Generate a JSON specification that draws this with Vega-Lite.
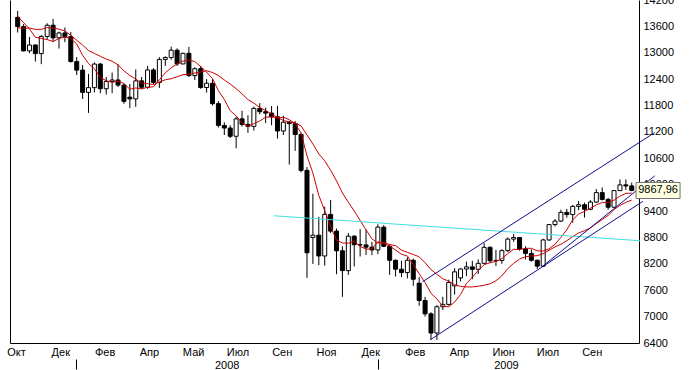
{
  "$schema": "https://vega.github.io/schema/vega-lite/v6.json",
  "width": 629,
  "height": 343,
  "autosize": {"type": "none"},
  "padding": {"left": 10, "top": 0, "right": 51, "bottom": 27},
  "background": "#ffffff",
  "config": {
    "view": {"stroke": null},
    "font": "Liberation Sans",
    "locale": {"number": {"decimal": ",", "thousands": "", "grouping": [3], "currency": ["", ""]}},
    "axis": {"labelFont": "Liberation Sans", "labelFontSize": 11, "labelColor": "#000000", "domainColor": "#000000", "domainWidth": 1, "tickColor": "#000000", "grid": false, "title": null, "labelOverlap": false, "labelFlush": false, "labelBound": false}
  },
  "datasets": {
    "w": [
      {"i": -12, "c": 13240}, {"i": -11, "c": 13079}, {"i": -10, "c": 13379}, {"i": -9, "c": 13358},
      {"i": -8, "c": 13113}, {"i": -7, "c": 13442}, {"i": -6, "c": 13821}, {"i": -5, "c": 13896},
      {"i": -4, "c": 14066}, {"i": -3, "c": 14093}, {"i": -2, "c": 13522}, {"i": -1, "c": 13806},
      {"i": 0, "o": 13806, "h": 13953, "l": 13460, "c": 13595},
      {"i": 1, "o": 13595, "h": 13650, "l": 13030, "c": 13043},
      {"i": 2, "o": 13043, "h": 13362, "l": 12991, "c": 13177},
      {"i": 3, "o": 13177, "h": 13190, "l": 12800, "c": 12981},
      {"i": 4, "o": 12981, "h": 13400, "l": 12741, "c": 13372},
      {"i": 5, "o": 13372, "h": 13670, "l": 13300, "c": 13626},
      {"i": 6, "o": 13626, "h": 13770, "l": 13250, "c": 13340},
      {"i": 7, "o": 13340, "h": 13480, "l": 13096, "c": 13451},
      {"i": 8, "o": 13451, "h": 13575, "l": 13240, "c": 13366},
      {"i": 9, "o": 13366, "h": 13470, "l": 12780, "c": 12800},
      {"i": 10, "o": 12800, "h": 12900, "l": 12495, "c": 12606},
      {"i": 11, "o": 12606, "h": 12720, "l": 11950, "c": 12099},
      {"i": 12, "o": 12099, "h": 12520, "l": 11634, "c": 12207},
      {"i": 13, "o": 12207, "h": 12780, "l": 12100, "c": 12743},
      {"i": 14, "o": 12743, "h": 12770, "l": 12080, "c": 12182},
      {"i": 15, "o": 12182, "h": 12450, "l": 12050, "c": 12348},
      {"i": 16, "o": 12348, "h": 12550, "l": 12080, "c": 12381},
      {"i": 17, "o": 12381, "h": 12741, "l": 12220, "c": 12266},
      {"i": 18, "o": 12266, "h": 12290, "l": 11840, "c": 11894},
      {"i": 19, "o": 11990, "h": 12290, "l": 11740, "c": 11951},
      {"i": 20, "o": 11951, "h": 12620, "l": 11770, "c": 12361},
      {"i": 21, "o": 12361, "h": 12450, "l": 12180, "c": 12216},
      {"i": 22, "o": 12216, "h": 12700, "l": 12180, "c": 12609},
      {"i": 23, "o": 12609, "h": 12650, "l": 12290, "c": 12325},
      {"i": 24, "o": 12325, "h": 12900, "l": 12200, "c": 12849},
      {"i": 25, "o": 12849, "h": 12920, "l": 12700, "c": 12892},
      {"i": 26, "o": 12892, "h": 13140, "l": 12840, "c": 13058},
      {"i": 27, "o": 13058, "h": 13100, "l": 12700, "c": 12746},
      {"i": 28, "o": 12746, "h": 13000, "l": 12740, "c": 12987},
      {"i": 29, "o": 12987, "h": 13134, "l": 12450, "c": 12480},
      {"i": 30, "o": 12480, "h": 12670, "l": 12380, "c": 12638},
      {"i": 31, "o": 12638, "h": 12700, "l": 12180, "c": 12210},
      {"i": 32, "o": 12210, "h": 12400, "l": 12096, "c": 12307},
      {"i": 33, "o": 12307, "h": 12400, "l": 11800, "c": 11843},
      {"i": 34, "o": 11843, "h": 11900, "l": 11300, "c": 11347},
      {"i": 35, "o": 11347, "h": 11420, "l": 11130, "c": 11289},
      {"i": 36, "o": 11289, "h": 11350, "l": 11060, "c": 11101},
      {"i": 37, "o": 11101, "h": 11540, "l": 10827, "c": 11497},
      {"i": 38, "o": 11497, "h": 11680, "l": 11320, "c": 11371},
      {"i": 39, "o": 11371, "h": 11580, "l": 11180, "c": 11326},
      {"i": 40, "o": 11326, "h": 11777, "l": 11230, "c": 11734},
      {"i": 41, "o": 11734, "h": 11855, "l": 11600, "c": 11660},
      {"i": 42, "o": 11660, "h": 11750, "l": 11400, "c": 11628},
      {"i": 43, "o": 11628, "h": 11790, "l": 11350, "c": 11544},
      {"i": 44, "o": 11544, "h": 11793, "l": 11050, "c": 11221},
      {"i": 45, "o": 11221, "h": 11566, "l": 11130, "c": 11422},
      {"i": 46, "o": 11422, "h": 11450, "l": 10459, "c": 11388},
      {"i": 47, "o": 11388, "h": 11450, "l": 10770, "c": 11143},
      {"i": 48, "o": 11143, "h": 11180, "l": 10280, "c": 10325},
      {"i": 49, "o": 10325, "h": 10400, "l": 7882, "c": 8451},
      {"i": 50, "o": 8800, "h": 9794, "l": 8197, "c": 8852},
      {"i": 51, "o": 8852, "h": 9270, "l": 8170, "c": 8379},
      {"i": 52, "o": 8379, "h": 9500, "l": 8157, "c": 9325},
      {"i": 53, "o": 9325, "h": 9653, "l": 8900, "c": 8944},
      {"i": 54, "o": 8944, "h": 9000, "l": 7965, "c": 8497},
      {"i": 55, "o": 8497, "h": 8600, "l": 7449, "c": 8046},
      {"i": 56, "o": 8046, "h": 8900, "l": 7950, "c": 8829},
      {"i": 57, "o": 8829, "h": 8850, "l": 8141, "c": 8635},
      {"i": 58, "o": 8635, "h": 8990, "l": 8368, "c": 8630},
      {"i": 59, "o": 8630, "h": 8980, "l": 8400, "c": 8579},
      {"i": 60, "o": 8579, "h": 8700, "l": 8400, "c": 8516},
      {"i": 61, "o": 8516, "h": 9100, "l": 8420, "c": 9035},
      {"i": 62, "o": 9035, "h": 9081, "l": 8580, "c": 8599},
      {"i": 63, "o": 8599, "h": 8650, "l": 7950, "c": 8281},
      {"i": 64, "o": 8281, "h": 8300, "l": 7913, "c": 8078},
      {"i": 65, "o": 8078, "h": 8270, "l": 7900, "c": 8001},
      {"i": 66, "o": 8001, "h": 8350, "l": 7868, "c": 8281},
      {"i": 67, "o": 8281, "h": 8320, "l": 7700, "c": 7850},
      {"i": 68, "o": 7760, "h": 7900, "l": 7247, "c": 7366},
      {"i": 69, "o": 7366, "h": 7450, "l": 7000, "c": 7063},
      {"i": 70, "o": 7063, "h": 7100, "l": 6470, "c": 6627},
      {"i": 71, "o": 6627, "h": 7260, "l": 6470, "c": 7224},
      {"i": 72, "o": 7224, "h": 7450, "l": 7150, "c": 7278},
      {"i": 73, "o": 7278, "h": 7840, "l": 7250, "c": 7776},
      {"i": 74, "o": 7700, "h": 8100, "l": 7500, "c": 8018},
      {"i": 75, "o": 7880, "h": 8100, "l": 7800, "c": 8083},
      {"i": 76, "o": 8083, "h": 8250, "l": 7920, "c": 8131},
      {"i": 77, "o": 8131, "h": 8270, "l": 7850, "c": 8076},
      {"i": 78, "o": 8076, "h": 8300, "l": 7970, "c": 8212},
      {"i": 79, "o": 8212, "h": 8670, "l": 8200, "c": 8575},
      {"i": 80, "o": 8575, "h": 8600, "l": 8230, "c": 8269},
      {"i": 81, "o": 8269, "h": 8520, "l": 8150, "c": 8277},
      {"i": 82, "o": 8277, "h": 8530, "l": 8200, "c": 8500},
      {"i": 83, "o": 8500, "h": 8800, "l": 8470, "c": 8763},
      {"i": 84, "o": 8763, "h": 8880, "l": 8700, "c": 8799},
      {"i": 85, "o": 8799, "h": 8800, "l": 8500, "c": 8540},
      {"i": 86, "o": 8540, "h": 8600, "l": 8300, "c": 8438},
      {"i": 87, "o": 8438, "h": 8530, "l": 8250, "c": 8281},
      {"i": 88, "o": 8281, "h": 8300, "l": 8087, "c": 8147},
      {"i": 89, "o": 8147, "h": 8770, "l": 8140, "c": 8744},
      {"i": 90, "o": 8744, "h": 9100, "l": 8720, "c": 9093},
      {"i": 91, "o": 9093, "h": 9220, "l": 9050, "c": 9172},
      {"i": 92, "o": 9172, "h": 9430, "l": 9150, "c": 9370},
      {"i": 93, "o": 9370, "h": 9450, "l": 9250, "c": 9321},
      {"i": 94, "o": 9321, "h": 9540, "l": 9135, "c": 9506},
      {"i": 95, "o": 9506, "h": 9630, "l": 9420, "c": 9544},
      {"i": 96, "o": 9544, "h": 9590, "l": 9253, "c": 9441},
      {"i": 97, "o": 9441, "h": 9650, "l": 9420, "c": 9605},
      {"i": 98, "o": 9605, "h": 9900, "l": 9590, "c": 9820},
      {"i": 99, "o": 9820, "h": 9936, "l": 9640, "c": 9665},
      {"i": 100, "o": 9665, "h": 9700, "l": 9430, "c": 9488},
      {"i": 101, "o": 9488, "h": 9880, "l": 9480, "c": 9865},
      {"i": 102, "o": 9865, "h": 10120, "l": 9860, "c": 9996},
      {"i": 103, "o": 9996, "h": 10119, "l": 9880, "c": 9972},
      {"i": 104, "o": 9972, "h": 10050, "l": 9850, "c": 9867.96}
    ],
    "trend": [
      {"line": "upper", "i": 68.55, "p": 7793},
      {"line": "upper", "i": 107.9, "p": 11186},
      {"line": "lower", "i": 69.9, "p": 6475},
      {"line": "lower", "i": 105.9, "p": 9623},
      {"line": "steep", "i": 88.8, "p": 8134},
      {"line": "steep", "i": 107.9, "p": 10202}
    ],
    "flat": [
      {"i": 43.4, "p": 9293},
      {"i": 105.4, "p": 8725}
    ]
  },
  "layer": [
    {
      "data": {"name": "w"},
      "transform": [{"filter": "datum.i >= 0"}],
      "mark": {"type": "rule", "color": "#000000", "strokeWidth": 1},
      "encoding": {
        "x": {
          "field": "i", "type": "quantitative",
          "scale": {"domain": [-0.45, 104.38], "nice": false, "zero": false},
          "axis": {
            "orient": "bottom",
            "values": [-0.283, 7.217, 14.717, 22.217, 29.717, 37.217, 44.717, 52.217, 59.717, 67.217, 74.717, 82.217, 89.717, 97.217],
            "labelExpr": "['Окт','Дек','Фев','Апр','Май','Июл','Сен','Ноя','Дек','Фев','Апр','Июн','Июл','Сен'][round((datum.value + 0.283) / 7.5)]",
            "ticks": false, "tickSize": 0, "labelPadding": 3, "domain": true
          }
        },
        "y": {
          "field": "l", "type": "quantitative",
          "scale": {"domain": [6400, 14200], "nice": false, "zero": false},
          "axis": {
            "orient": "right",
            "values": [6400, 7000, 7600, 8200, 8800, 9400, 10000, 10600, 11200, 11800, 12400, 13000, 13600, 14200],
            "format": "d", "ticks": false, "tickSize": 0, "labelPadding": 4, "domain": true
          }
        },
        "y2": {"field": "h"}
      }
    },
    {
      "data": {"name": "w"},
      "transform": [{"filter": "datum.i >= 0"}],
      "mark": {"type": "bar", "size": 4, "stroke": "#000000", "strokeWidth": 1},
      "encoding": {
        "x": {
          "field": "i", "type": "quantitative",
          "axis": {
            "orient": "bottom", "values": [35.4, 82.7],
            "labelExpr": "datum.value < 60 ? '2008' : '2009'",
            "ticks": false, "tickSize": 0, "labelPadding": 16, "domain": false
          }
        },
        "y": {"field": "o", "type": "quantitative", "axis": {"orient": "left", "labels": false, "ticks": false, "tickSize": 0, "domain": true}},
        "y2": {"field": "c"},
        "fill": {"condition": {"test": "datum.c >= datum.o", "value": "#ffffff"}, "value": "#000000"}
      }
    },
    {
      "data": {"name": "w"},
      "transform": [
        {"window": [{"op": "mean", "field": "c", "as": "ma"}], "frame": [-5, 0], "sort": [{"field": "i"}]},
        {"filter": "datum.i >= 0"}
      ],
      "mark": {"type": "line", "color": "#cc0000", "strokeWidth": 1, "clip": true},
      "encoding": {
        "x": {
          "field": "i", "type": "quantitative",
          "axis": {"orient": "bottom", "values": [9.88, 61.05], "labels": false, "domain": false, "ticks": true, "tickSize": 10, "tickWidth": 1, "offset": 16}
        },
        "y": {"field": "ma", "type": "quantitative", "axis": null}
      }
    },
    {
      "data": {"name": "w"},
      "transform": [
        {"window": [{"op": "mean", "field": "c", "as": "ma"}], "frame": [-12, 0], "sort": [{"field": "i"}]},
        {"filter": "datum.i >= 0"}
      ],
      "mark": {"type": "line", "color": "#cc0000", "strokeWidth": 1, "clip": true},
      "encoding": {
        "x": {"field": "i", "type": "quantitative", "axis": null},
        "y": {"field": "ma", "type": "quantitative", "axis": null}
      }
    },
    {
      "data": {"name": "flat"},
      "mark": {"type": "line", "color": "#40e0e0", "strokeWidth": 1, "clip": false},
      "encoding": {
        "x": {"field": "i", "type": "quantitative", "axis": null},
        "y": {"field": "p", "type": "quantitative", "axis": null}
      }
    },
    {
      "data": {"name": "trend"},
      "mark": {"type": "line", "color": "#10108c", "strokeWidth": 1, "clip": false},
      "encoding": {
        "x": {"field": "i", "type": "quantitative", "axis": null},
        "y": {"field": "p", "type": "quantitative", "axis": null},
        "detail": {"field": "line"}
      }
    },
    {
      "data": {"name": "w"},
      "transform": [{"filter": "datum.i == 104"}],
      "mark": {"type": "point", "shape": "M-1,-0.364L1,-0.364L1,0.364L-1,0.364Z", "size": 1936, "filled": true, "fill": "#ffffe1", "stroke": "#707070", "strokeWidth": 1, "opacity": 1, "xOffset": 26.3, "clip": false},
      "encoding": {
        "x": {"field": "i", "type": "quantitative", "axis": null},
        "y": {"field": "c", "type": "quantitative", "axis": null}
      }
    },
    {
      "data": {"name": "w"},
      "transform": [{"filter": "datum.i == 104"}],
      "mark": {"type": "text", "fontSize": 11, "font": "Liberation Sans", "color": "#000000", "align": "center", "baseline": "middle", "dx": 26.3, "clip": false},
      "encoding": {
        "x": {"field": "i", "type": "quantitative", "axis": null},
        "y": {"field": "c", "type": "quantitative", "axis": null},
        "text": {"field": "c", "type": "quantitative", "format": ".2f"}
      }
    }
  ],
  "resolve": {"axis": {"x": "independent", "y": "independent"}}
}
